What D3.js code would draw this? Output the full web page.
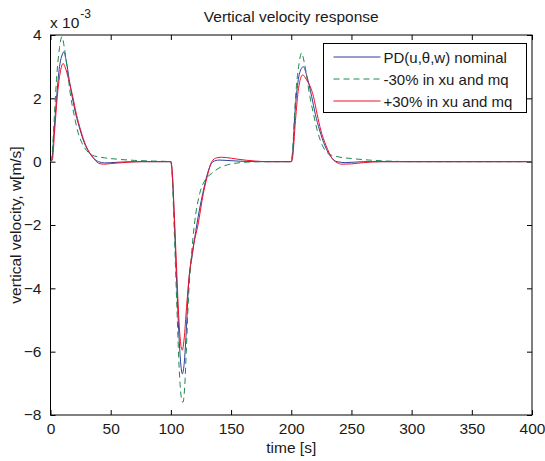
<!doctype html>
<html>
	<head>
		<meta charset="UTF-8">
		<title>Vertical velocity response</title>
		<script src="https://d3js.org/d3.v7.min.js"></script>
		<style>
			body { margin: 0; background: #ffffff; }
		</style>
	</head>
	<body>
		<script>

// -------------------------------------- data (time [s], w [1e-3 m/s])

		var xTicks = [0, 50, 100, 150, 200, 250, 300, 350, 400];
		var yTicks = [-8, -6, -4, -2, 0, 2, 4];

		var nominal = [
			[0,0],[1,0.05],[3,1.0],[5,2.0],[7.5,3.0],[10,3.4],[11,3.47],[13,3.2],[15.5,2.6],[18,2.05],
			[21,1.5],[24.6,1.0],[28,0.6],[32,0.3],[36,0.1],[40,0],[45,-0.04],[55,-0.02],[70,0],[100,0],
			[101,-0.3],[103,-2.0],[105,-4.0],[107,-5.7],[108.5,-6.5],[109.5,-6.7],[111,-6.4],[113,-5.2],
			[114.5,-4.0],[118,-2.9],[121.5,-2.0],[126.5,-1.0],[131,-0.3],[135,0],[140,0.05],[150,0.03],
			[170,0],[200,0],[201,0.2],[203,1.5],[205.5,2.5],[208.5,2.95],[210,3.0],[213,2.7],[217,2.05],
			[220,1.5],[223.5,1.0],[228,0.5],[233,0.15],[238,0],[245,-0.03],[260,0],[400,0]
		];

		var minus30 = [
			[0,0],[1,0.1],[3,1.3],[5,2.6],[7.5,3.6],[9.5,3.95],[11.5,3.6],[14,2.9],[16.8,2.05],[19.5,1.5],
			[22.3,1.0],[26,0.6],[30,0.35],[35,0.2],[40,0.15],[45,0.12],[55,0.08],[70,0.04],[85,0.02],[100,0],
			[101,-0.4],[103,-2.4],[105,-4.6],[107,-6.6],[108.5,-7.4],[110,-7.6],[111.5,-7.1],[113,-5.8],
			[114.5,-4.4],[117,-3.0],[119.5,-2.0],[124,-1.0],[129,-0.55],[134,-0.37],[140,-0.2],[147,-0.1],
			[158,-0.03],[175,0],[200,0],[201,0.3],[203.5,2.0],[206.5,3.1],[208.5,3.43],[211,3.1],[215.5,2.05],
			[218.5,1.5],[221.5,1.0],[226,0.5],[231,0.25],[238,0.16],[250,0.1],[265,0.05],[280,0.02],[300,0],[400,0]
		];

		var plus30 = [
			[0,0],[1.5,0.05],[3.5,1.0],[5.5,2.0],[8,2.8],[10.5,3.1],[12,3.0],[15,2.6],[18.5,2.05],[21.5,1.5],
			[25,1.0],[29.5,0.5],[35,0.15],[40,-0.05],[44,-0.08],[50,-0.06],[60,-0.03],[75,0],[100,0],
			[101,-0.25],[103,-1.8],[105,-3.6],[107,-5.2],[108.5,-5.85],[109.5,-5.95],[111,-5.6],[113,-4.6],
			[115,-3.7],[118.5,-2.7],[122.5,-2.0],[127,-1.0],[130,-0.5],[134,0],[138,0.12],[142,0.14],[146,0.13],
			[155,0.08],[170,0.02],[180,0],[200,0],[201,0.1],[203.5,1.3],[206,2.3],[209.5,2.74],[212.5,2.6],
			[218.5,2.05],[221.5,1.5],[224.5,1.0],[229,0.5],[234,0.1],[238,-0.03],[242,-0.08],[250,-0.07],
			[260,-0.03],[275,0],[400,0]
		];

		var seriesNames = ["PD(u,\u03b8,w) nominal", "-30% in xu and mq", "+30% in xu and mq"];

// -------------------------------------- settings

		var blue_col = "#2b3f9e";
		var green_col = "#1e8a4c";
		var red_col = "#f0102a";
		var text_col = "#1a1a1a";
		var font = "Arial, 'Liberation Sans', sans-serif";
		var fsize = "15.5px";

		var W = 545, H = 461;
		var margin = { top: 35, right: 13, bottom: 46, left: 50.5 };
		var width = W - margin.left - margin.right,
			height = H - margin.top - margin.bottom;

		var svg = d3.select("body").append("svg")
			.attr("width", W)
			.attr("height", H)
			.style("display", "block")
			.style("font-family", font);

		var g = svg.append("g")
			.attr("transform", "translate(" + margin.left + "," + margin.top + ")");

// -------------------------------------- scales

		var x = d3.scaleLinear().domain([0, 400]).range([0, width]);
		var y = d3.scaleLinear().domain([-8, 4]).range([height, 0]);

// -------------------------------------- axes (matlab style, ticks inward on all sides)

		function styleAxis(sel, labels) {
			sel.select(".domain").remove();
			sel.selectAll(".tick line").attr("stroke", "#000").attr("stroke-width", 1);
			sel.selectAll(".tick text")
				.style("font-family", font)
				.style("font-size", fsize)
				.attr("fill", text_col);
			if (!labels) sel.selectAll(".tick text").remove();
		}

		g.append("g")
			.attr("transform", "translate(0," + height + ")")
			.call(d3.axisBottom(x).tickValues(xTicks).tickSizeInner(-5).tickSizeOuter(0).tickPadding(8))
			.call(styleAxis, true);

		g.append("g")
			.call(d3.axisTop(x).tickValues(xTicks).tickSizeInner(-5).tickSizeOuter(0))
			.call(styleAxis, false);

		g.append("g")
			.call(d3.axisLeft(y).tickValues(yTicks).tickSizeInner(-5).tickSizeOuter(0).tickPadding(9))
			.call(styleAxis, true);

		g.append("g")
			.attr("transform", "translate(" + width + ",0)")
			.call(d3.axisRight(y).tickValues(yTicks).tickSizeInner(-5).tickSizeOuter(0))
			.call(styleAxis, false);

		// box
		g.append("rect")
			.attr("x", 0).attr("y", 0)
			.attr("width", width).attr("height", height)
			.attr("fill", "none")
			.attr("stroke", "#000")
			.attr("stroke-width", 1);

// -------------------------------------- lines

		var line = d3.line()
			.x(d => x(d[0]))
			.y(d => y(d[1]))
			.curve(d3.curveMonotoneX);

		var series = [
			{ data: nominal, col: blue_col, dash: null },
			{ data: minus30, col: green_col, dash: "6,4" },
			{ data: plus30, col: red_col, dash: null }
		];

		var plot = g.append("g");
		series.forEach(function(s) {
			plot.append("path")
				.datum(s.data)
				.attr("d", line)
				.attr("fill", "none")
				.attr("stroke", s.col)
				.attr("stroke-width", 1)
				.attr("stroke-dasharray", s.dash);
		});

// -------------------------------------- legend

		var legend = svg.append("g").attr("transform", "translate(323.5,43.5)");
		legend.append("rect")
			.attr("width", 203).attr("height", 69)
			.attr("fill", "#fff")
			.attr("stroke", "#000")
			.attr("stroke-width", 1);

		series.forEach(function(s, i) {
			var yy = 13.5 + i * 22;
			legend.append("line")
				.attr("x1", 10).attr("x2", 57)
				.attr("y1", yy).attr("y2", yy)
				.attr("stroke", s.col)
				.attr("stroke-width", 1)
				.attr("stroke-dasharray", s.dash);
			legend.append("text")
				.attr("x", 60).attr("y", yy + 5.5)
				.style("font-size", "15px")
				.attr("fill", text_col)
				.text(seriesNames[i]);
		});

// -------------------------------------- titles

		svg.append("text")
			.attr("x", margin.left + width / 2).attr("y", 22)
			.attr("text-anchor", "middle")
			.style("font-size", fsize)
			.attr("fill", text_col)
			.text("Vertical velocity response");

		svg.append("text")
			.attr("x", margin.left + width / 2).attr("y", 453)
			.attr("text-anchor", "middle")
			.style("font-size", fsize)
			.attr("fill", text_col)
			.text("time [s]");

		svg.append("text")
			.attr("transform", "translate(21," + (margin.top + height / 2) + ") rotate(-90)")
			.attr("text-anchor", "middle")
			.style("font-size", fsize)
			.attr("fill", text_col)
			.text("vertical velocity, w[m/s]");

		// exponent
		var expo = svg.append("text")
			.attr("x", 50).attr("y", 28)
			.style("font-size", fsize)
			.attr("fill", text_col);
		expo.append("tspan").text("x 10");
		expo.append("tspan")
			.attr("dy", -10)
			.attr("dx", 1)
			.style("font-size", "12px")
			.text("-3");

		</script>
	</body>
</html>
